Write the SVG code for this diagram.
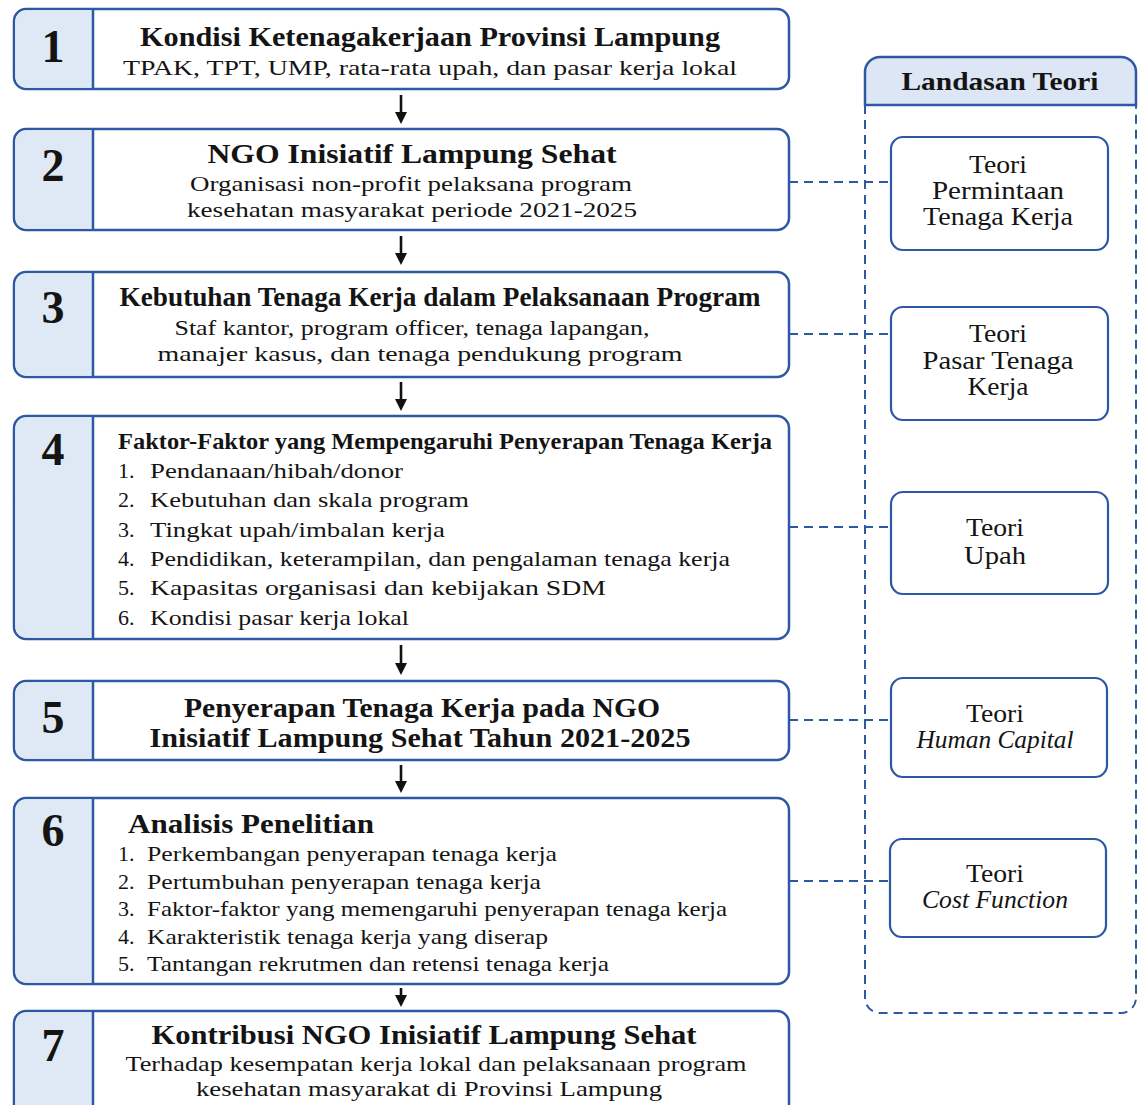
<svg xmlns="http://www.w3.org/2000/svg" width="1144" height="1105" viewBox="0 0 1144 1105">
<style>
text{font-family:"Liberation Serif","Times New Roman",serif;fill:#141414}
.box{fill:#fff;stroke:#2d58a3;stroke-width:2.5}
.col{fill:#dfe8f5}
.div{stroke:#2d58a3;stroke-width:2.5}
.num{font-size:46px;font-weight:bold;text-anchor:middle}
.t{font-size:27px;font-weight:bold;text-anchor:middle}
.s{font-size:22px;text-anchor:middle}
.li{font-size:22px}
.th{font-size:25px;text-anchor:middle}
.it{font-style:italic}
.tb{fill:#fff;stroke:#2d58a3;stroke-width:2.2}
.dash{fill:none;stroke:#2d58a3;stroke-width:2;stroke-dasharray:9 6}
.arr{stroke:#111;stroke-width:2.6;marker-end:url(#ah)}
</style>
<defs>
<marker id="ah" markerUnits="userSpaceOnUse" markerWidth="14" markerHeight="12" refX="1" refY="6" orient="auto">
<path d="M0,0 L12,6 L0,12 z" fill="#111"/>
</marker>
</defs>
<rect width="1144" height="1105" fill="#fff"/>

<g id="panel">
<path d="M865,105 V72 A15,15 0 0 1 880,57 H1121 A15,15 0 0 1 1136,72 V105 Z" fill="#dce6f4" stroke="#2d58a3" stroke-width="2.5"/>
<path class="dash" d="M865,105 V998 A15,15 0 0 0 880,1013 H1121 A15,15 0 0 0 1136,998 V105"/>
<text x="1000" y="90" font-size="25" font-weight="bold" text-anchor="middle" textLength="197" lengthAdjust="spacingAndGlyphs">Landasan Teori</text>
</g>

<g id="connectors">
<line class="arr" x1="401" y1="95" x2="401" y2="113"/>
<line class="arr" x1="401" y1="236" x2="401" y2="254"/>
<line class="arr" x1="401" y1="382" x2="401" y2="400"/>
<line class="arr" x1="401" y1="645" x2="401" y2="664"/>
<line class="arr" x1="401" y1="765" x2="401" y2="782"/>
<line class="arr" x1="401" y1="988" x2="401" y2="996"/>
<line class="dash" x1="789" y1="182" x2="891" y2="182"/>
<line class="dash" x1="789" y1="334" x2="891" y2="334"/>
<line class="dash" x1="789" y1="527" x2="891" y2="527"/>
<line class="dash" x1="789" y1="720" x2="891" y2="720"/>
<line class="dash" x1="789" y1="881" x2="891" y2="881"/>
</g>

<g id="node1">
<rect class="box" x="14" y="9" width="775" height="80" rx="12"/>
<path class="col" d="M93,10.3 H26 A11,11 0 0 0 15.3,21 V77 A11,11 0 0 0 26,87.7 H93 Z"/>
<line class="div" x1="93" y1="9" x2="93" y2="89"/>
<text class="num" x="53" y="62">1</text>
<text class="t" x="430" y="46" textLength="580" lengthAdjust="spacingAndGlyphs">Kondisi Ketenagakerjaan Provinsi Lampung</text>
<text class="s" x="430" y="75" textLength="614" lengthAdjust="spacingAndGlyphs">TPAK, TPT, UMP, rata-rata upah, dan pasar kerja lokal</text>
</g>

<g id="node2">
<rect class="box" x="14" y="129" width="775" height="101" rx="12"/>
<path class="col" d="M93,130.3 H26 A11,11 0 0 0 15.3,141 V218 A11,11 0 0 0 26,228.7 H93 Z"/>
<line class="div" x1="93" y1="129" x2="93" y2="230"/>
<text class="num" x="53" y="181">2</text>
<text class="t" x="412" y="163" font-size="28" textLength="409" lengthAdjust="spacingAndGlyphs">NGO Inisiatif Lampung Sehat</text>
<text class="s" x="411" y="191" textLength="442" lengthAdjust="spacingAndGlyphs">Organisasi non-profit pelaksana program</text>
<text class="s" x="412" y="217" textLength="450" lengthAdjust="spacingAndGlyphs">kesehatan masyarakat periode 2021-2025</text>
</g>

<g id="node3">
<rect class="box" x="14" y="272" width="775" height="105" rx="12"/>
<path class="col" d="M93,273.3 H26 A11,11 0 0 0 15.3,284 V365 A11,11 0 0 0 26,375.7 H93 Z"/>
<line class="div" x1="93" y1="272" x2="93" y2="377"/>
<text class="num" x="53" y="323">3</text>
<text class="t" x="440" y="306" font-size="25" textLength="641" lengthAdjust="spacingAndGlyphs">Kebutuhan Tenaga Kerja dalam Pelaksanaan Program</text>
<text class="s" x="412" y="335" textLength="475" lengthAdjust="spacingAndGlyphs">Staf kantor, program officer, tenaga lapangan,</text>
<text class="s" x="420" y="361" textLength="525" lengthAdjust="spacingAndGlyphs">manajer kasus, dan tenaga pendukung program</text>
</g>

<g id="node4">
<rect class="box" x="14" y="416" width="775" height="223" rx="12"/>
<path class="col" d="M93,417.3 H26 A11,11 0 0 0 15.3,428 V627 A11,11 0 0 0 26,637.7 H93 Z"/>
<line class="div" x1="93" y1="416" x2="93" y2="639"/>
<text class="num" x="53" y="465">4</text>
<text x="118" y="449" font-size="23" font-weight="bold" textLength="654" lengthAdjust="spacingAndGlyphs">Faktor-Faktor yang Mempengaruhi Penyerapan Tenaga Kerja</text>
<text class="li" x="118" y="478">1.</text><text class="li" x="150" y="478" textLength="253" lengthAdjust="spacingAndGlyphs">Pendanaan/hibah/donor</text>
<text class="li" x="118" y="507">2.</text><text class="li" x="150" y="507" textLength="319" lengthAdjust="spacingAndGlyphs">Kebutuhan dan skala program</text>
<text class="li" x="118" y="537">3.</text><text class="li" x="150" y="537" textLength="295" lengthAdjust="spacingAndGlyphs">Tingkat upah/imbalan kerja</text>
<text class="li" x="118" y="566">4.</text><text class="li" x="150" y="566" textLength="580" lengthAdjust="spacingAndGlyphs">Pendidikan, keterampilan, dan pengalaman tenaga kerja</text>
<text class="li" x="118" y="595">5.</text><text class="li" x="150" y="595" textLength="456" lengthAdjust="spacingAndGlyphs">Kapasitas organisasi dan kebijakan SDM</text>
<text class="li" x="118" y="625">6.</text><text class="li" x="150" y="625" textLength="259" lengthAdjust="spacingAndGlyphs">Kondisi pasar kerja lokal</text>
</g>

<g id="node5">
<rect class="box" x="14" y="681" width="775" height="79" rx="12"/>
<path class="col" d="M93,682.3 H26 A11,11 0 0 0 15.3,693 V748 A11,11 0 0 0 26,758.7 H93 Z"/>
<line class="div" x1="93" y1="681" x2="93" y2="760"/>
<text class="num" x="53" y="733">5</text>
<text class="t" x="422" y="717" font-size="28" textLength="476" lengthAdjust="spacingAndGlyphs">Penyerapan Tenaga Kerja pada NGO</text>
<text class="t" x="420" y="747" font-size="28" textLength="541" lengthAdjust="spacingAndGlyphs">Inisiatif Lampung Sehat Tahun 2021-2025</text>
</g>

<g id="node6">
<rect class="box" x="14" y="798" width="775" height="186" rx="12"/>
<path class="col" d="M93,799.3 H26 A11,11 0 0 0 15.3,810 V972 A11,11 0 0 0 26,982.7 H93 Z"/>
<line class="div" x1="93" y1="798" x2="93" y2="984"/>
<text class="num" x="53" y="846">6</text>
<text x="128" y="833" font-size="27" font-weight="bold" textLength="246" lengthAdjust="spacingAndGlyphs">Analisis Penelitian</text>
<text class="li" x="118" y="861">1.</text><text class="li" x="147" y="861" textLength="410" lengthAdjust="spacingAndGlyphs">Perkembangan penyerapan tenaga kerja</text>
<text class="li" x="118" y="889">2.</text><text class="li" x="147" y="889" textLength="394" lengthAdjust="spacingAndGlyphs">Pertumbuhan penyerapan tenaga kerja</text>
<text class="li" x="118" y="916">3.</text><text class="li" x="147" y="916" textLength="580" lengthAdjust="spacingAndGlyphs">Faktor-faktor yang memengaruhi penyerapan tenaga kerja</text>
<text class="li" x="118" y="944">4.</text><text class="li" x="147" y="944" textLength="401" lengthAdjust="spacingAndGlyphs">Karakteristik tenaga kerja yang diserap</text>
<text class="li" x="118" y="971">5.</text><text class="li" x="147" y="971" textLength="462" lengthAdjust="spacingAndGlyphs">Tantangan rekrutmen dan retensi tenaga kerja</text>
</g>

<g id="node7">
<rect class="box" x="14" y="1011" width="775" height="110" rx="12"/>
<path class="col" d="M93,1012.3 H26 A11,11 0 0 0 15.3,1023 V1120 H93 Z"/>
<line class="div" x1="93" y1="1011" x2="93" y2="1120"/>
<text class="num" x="53" y="1061">7</text>
<text class="t" x="424" y="1044" textLength="545" lengthAdjust="spacingAndGlyphs">Kontribusi NGO Inisiatif Lampung Sehat</text>
<text class="s" x="436" y="1071" textLength="621" lengthAdjust="spacingAndGlyphs">Terhadap kesempatan kerja lokal dan pelaksanaan program</text>
<text class="s" x="429" y="1096" textLength="466" lengthAdjust="spacingAndGlyphs">kesehatan masyarakat di Provinsi Lampung</text>
</g>

<g id="teori1">
<rect class="tb" x="891" y="137" width="217" height="113" rx="12"/>
<text class="th" x="998" y="173" textLength="58" lengthAdjust="spacingAndGlyphs">Teori</text>
<text class="th" x="998" y="199" textLength="132" lengthAdjust="spacingAndGlyphs">Permintaan</text>
<text class="th" x="998" y="225" textLength="150" lengthAdjust="spacingAndGlyphs">Tenaga Kerja</text>
</g>
<g id="teori2">
<rect class="tb" x="891" y="307" width="217" height="113" rx="12"/>
<text class="th" x="998" y="342" textLength="58" lengthAdjust="spacingAndGlyphs">Teori</text>
<text class="th" x="998" y="369" textLength="151" lengthAdjust="spacingAndGlyphs">Pasar Tenaga</text>
<text class="th" x="998" y="395" textLength="61" lengthAdjust="spacingAndGlyphs">Kerja</text>
</g>
<g id="teori3">
<rect class="tb" x="891" y="492" width="217" height="102" rx="12"/>
<text class="th" x="995" y="536" textLength="58" lengthAdjust="spacingAndGlyphs">Teori</text>
<text class="th" x="995" y="564" textLength="62" lengthAdjust="spacingAndGlyphs">Upah</text>
</g>
<g id="teori4">
<rect class="tb" x="891" y="678" width="216" height="99" rx="12"/>
<text class="th" x="995" y="722" textLength="58" lengthAdjust="spacingAndGlyphs">Teori</text>
<text class="th it" x="995" y="748" textLength="157" lengthAdjust="spacingAndGlyphs">Human Capital</text>
</g>
<g id="teori5">
<rect class="tb" x="890" y="839" width="216" height="98" rx="12"/>
<text class="th" x="995" y="882" textLength="58" lengthAdjust="spacingAndGlyphs">Teori</text>
<text class="th it" x="995" y="908" textLength="146" lengthAdjust="spacingAndGlyphs">Cost Function</text>
</g>
</svg>
